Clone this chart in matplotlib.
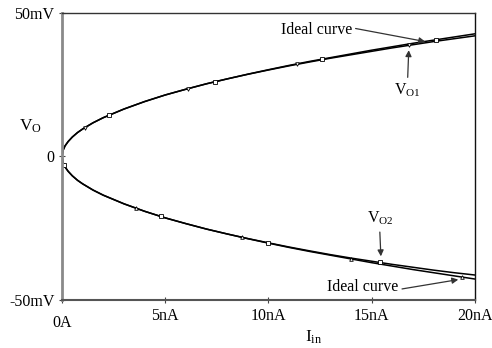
import matplotlib
matplotlib.use("Agg")
import matplotlib.pyplot as plt

plt.rcParams['font.family'] = ['Liberation Serif', 'DejaVu Serif']
plt.rcParams['mathtext.fontset'] = 'custom'
plt.rcParams['mathtext.rm'] = 'Liberation Serif'
plt.rcParams['mathtext.it'] = 'Liberation Serif'

# input current (nA)
I_na = [0, 0.05, 0.15, 0.3, 0.5, 0.75, 1, 1.5, 2, 3, 4, 5, 6, 7, 8,
        9, 10, 11, 12, 13, 14, 15, 16, 17, 18, 19, 20]

# output voltages (mV)
ideal_pos = [0, 2.1, 3.7, 5.2, 6.75, 8.3, 9.55, 11.7, 13.5, 16.5, 19.1, 21.4, 23.4, 25.3, 27.0,
             28.65, 30.2, 31.7, 33.1, 34.4, 35.7, 37.0, 38.2, 39.4, 40.5, 41.6, 42.7]
vo1 = [0, 2.1, 3.7, 5.2, 6.75, 8.3, 9.55, 11.7, 13.5, 16.5, 19.1, 21.4, 23.4, 25.3, 27.0,
       28.6, 30.1, 31.55, 32.9, 34.2, 35.4, 36.6, 37.8, 38.9, 40.0, 41.0, 42.0]
ideal_neg = [-v for v in ideal_pos]
vo2 = [0, -2.1, -3.7, -5.2, -6.75, -8.3, -9.55, -11.7, -13.5, -16.5, -19.1, -21.4, -23.4, -25.3, -27.0,
       -28.6, -30.1, -31.55, -32.9, -34.2, -35.4, -36.5, -37.6, -38.6, -39.6, -40.5, -41.3]

# simulation markers
mk_ideal_pos_I = [2.3, 7.4, 12.6, 18.1]
mk_ideal_pos_V = [14.5, 26.0, 33.9, 40.6]
mk_vo1_I = [1.1, 6.1, 11.4, 16.8]
mk_vo1_V = [9.9, 23.6, 32.1, 38.7]
mk_ideal_neg_I = [3.6, 8.7, 14.0, 19.4]
mk_ideal_neg_V = [-18.1, -28.2, -35.7, -42.0]
mk_vo2_I = [0.1, 4.8, 10.0, 15.4]
mk_vo2_V = [-3.0, -20.9, -30.1, -36.9]

fig = plt.figure(figsize=(4.92, 3.48), dpi=100)
ax = fig.add_axes([0.126, 0.138, 0.839, 0.825])

lw = 1.1
ax.plot(I_na, ideal_pos, color='black', lw=lw)
ax.plot(I_na, vo1, color='black', lw=lw)
ax.plot(I_na, ideal_neg, color='black', lw=lw)
ax.plot(I_na, vo2, color='black', lw=lw)

ms = 2.6
ax.plot(mk_ideal_pos_I, mk_ideal_pos_V, 's', ms=ms, mfc='white', mec='black', mew=0.6)
ax.plot(mk_vo1_I, mk_vo1_V, 'v', ms=ms, mfc='white', mec='black', mew=0.6)
ax.plot(mk_ideal_neg_I, mk_ideal_neg_V, '^', ms=ms, mfc='white', mec='black', mew=0.6)
ax.plot(mk_vo2_I, mk_vo2_V, 's', ms=ms, mfc='white', mec='black', mew=0.6)

ax.set_xlim(0, 20)
ax.set_ylim(-50, 50)
ax.set_xticks([0, 5, 10, 15, 20])
ax.set_xticklabels(['0A', '5nA', '10nA', '15nA', '20nA'])
ax.set_yticks([-50, 0, 50])
ax.set_yticklabels(['-50mV', '0', '50mV'])
ax.tick_params(direction='inout', length=5, width=0.8, colors='#444444',
               labelcolor='black', labelsize=11.5, pad=3)
ax.xaxis.get_major_ticks()[0].set_pad(8)

ax.spines['left'].set_color('#8a8a8a')
ax.spines['left'].set_linewidth(2.0)
ax.spines['bottom'].set_color('#555555')
ax.spines['bottom'].set_linewidth(1.5)
ax.spines['top'].set_color('#333333')
ax.spines['top'].set_linewidth(1.0)
ax.spines['right'].set_color('#111111')
ax.spines['right'].set_linewidth(1.0)

fig.text(0.038, 0.625, r'$\mathrm{V_O}$', fontsize=12.5)
fig.text(0.62, 0.018, r'$\mathrm{I_{in}}$', fontsize=12.5)

arrow = dict(arrowstyle='-|>', color='#333333', lw=0.9, mutation_scale=9, shrinkA=0, shrinkB=0)
ax.annotate('Ideal curve', xy=(17.6, 40.0), xytext=(10.6, 44.0), fontsize=11.5,
            va='center', ha='left', arrowprops=dict(arrow, relpos=(1.05, 0.6)))
ax.annotate(r'$\mathrm{V_{O1}}$', xy=(16.8, 37.0), xytext=(16.75, 23.0), fontsize=11.5,
            va='center', ha='center', arrowprops=dict(arrow, relpos=(0.5, 1.25)))
ax.annotate(r'$\mathrm{V_{O2}}$', xy=(15.45, -34.8), xytext=(15.4, -21.5), fontsize=11.5,
            va='center', ha='center', arrowprops=dict(arrow, relpos=(0.5, -0.3)))
ax.annotate('Ideal curve', xy=(19.2, -42.9), xytext=(12.85, -45.6), fontsize=11.5,
            va='center', ha='left', arrowprops=dict(arrow, relpos=(1.05, 0.4)))

fig.savefig('out.png', dpi=100)
